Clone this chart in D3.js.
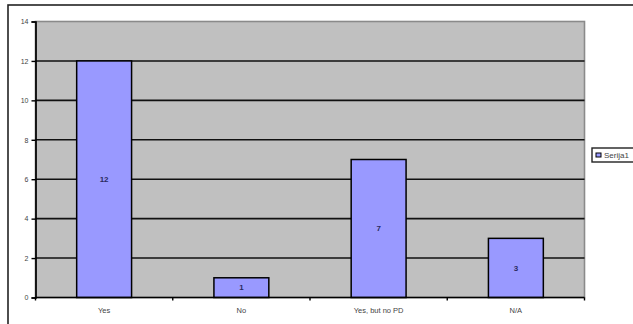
<!DOCTYPE html>
<html>
<head>
<meta charset="utf-8">
<script src="https://cdn.jsdelivr.net/npm/d3@7"></script>
<style>
  html, body { margin: 0; padding: 0; background: #fff; }
  svg { display: block; font-family: "Liberation Sans", Arial, sans-serif; }
</style>
</head>
<body>
<svg id="chart" width="633" height="324"></svg>
<script>
// Answers and their counts
const categories = ["Yes", "No", "Yes, but no PD", "N/A"];
const counts = [12, 1, 7, 3];
const yTicks = [0, 2, 4, 6, 8, 10, 12, 14];
const seriesName = "Serija1";

const svg = d3.select("#chart");
const plot = { left: 35.5, top: 21.5, right: 584.5, bottom: 297.5 };

// Outer chart frame (extends past the visible page on the right and bottom)
svg.append("rect")
  .attr("x", 8).attr("y", 5)
  .attr("width", 700).attr("height", 400)
  .attr("fill", "#fff")
  .attr("stroke", "#222").attr("stroke-width", 1.6);

const x = d3.scaleBand()
  .domain(categories)
  .range([plot.left, plot.right])
  .paddingInner(0.6).paddingOuter(0.3);

const y = d3.scaleLinear()
  .domain([0, 14])
  .range([plot.bottom, plot.top]);

// Plot area background
svg.append("rect")
  .attr("x", plot.left).attr("y", plot.top)
  .attr("width", plot.right - plot.left)
  .attr("height", plot.bottom - plot.top)
  .attr("fill", "#c0c0c0")
  .attr("stroke", "#8a8a8a").attr("stroke-width", 1.6);

// Horizontal gridlines
svg.append("g")
  .selectAll("line")
  .data(yTicks.filter(d => d > 0 && d < 14))
  .join("line")
  .attr("x1", plot.left).attr("x2", plot.right)
  .attr("y1", d => y(d)).attr("y2", d => y(d))
  .attr("stroke", "#111").attr("stroke-width", 1.6);

// Bars
svg.append("g")
  .selectAll("rect")
  .data(categories)
  .join("rect")
  .attr("x", d => x(d))
  .attr("y", (d, i) => y(counts[i]))
  .attr("width", x.bandwidth())
  .attr("height", (d, i) => y(0) - y(counts[i]))
  .attr("fill", "#9999ff")
  .attr("stroke", "#000").attr("stroke-width", 1.5);

// Value labels centred in each bar
svg.append("g")
  .selectAll("text")
  .data(categories)
  .join("text")
  .attr("x", d => x(d) + x.bandwidth() / 2)
  .attr("y", (d, i) => (y(counts[i]) + y(0)) / 2)
  .attr("dy", "0.35em")
  .attr("text-anchor", "middle")
  .attr("font-size", 8)
  .attr("font-weight", "bold")
  .attr("fill", "#2a2a60")
  .text((d, i) => counts[i]);

// Y axis
const yAxis = svg.append("g")
  .attr("transform", `translate(${plot.left},0)`)
  .call(d3.axisLeft(y).tickValues(yTicks).tickSize(4).tickPadding(3));
yAxis.select(".domain").attr("stroke", "#000").attr("stroke-width", 1.7);
yAxis.selectAll(".tick line").attr("stroke", "#000").attr("stroke-width", 1.4);
yAxis.selectAll("text").attr("font-size", 7).attr("fill", "#444")
  .attr("font-family", "'Liberation Sans', Arial, sans-serif");

// X axis baseline with tick marks at the category boundaries
const xAxisG = svg.append("g");
xAxisG.append("line")
  .attr("x1", plot.left).attr("x2", plot.right)
  .attr("y1", plot.bottom).attr("y2", plot.bottom)
  .attr("stroke", "#000").attr("stroke-width", 1.7);
const step = (plot.right - plot.left) / categories.length;
xAxisG.selectAll("line.tick")
  .data(d3.range(categories.length + 1))
  .join("line")
  .attr("class", "tick")
  .attr("x1", i => plot.left + i * step).attr("x2", i => plot.left + i * step)
  .attr("y1", plot.bottom).attr("y2", plot.bottom + 3)
  .attr("stroke", "#000").attr("stroke-width", 1.4);
xAxisG.selectAll("text")
  .data(categories)
  .join("text")
  .attr("x", d => x(d) + x.bandwidth() / 2)
  .attr("y", plot.bottom + 15)
  .attr("text-anchor", "middle")
  .attr("font-size", 7.5)
  .attr("fill", "#444")
  .text(d => d);

// Legend
const legend = svg.append("g").attr("transform", "translate(592,148)");
legend.append("rect")
  .attr("width", 60).attr("height", 14)
  .attr("fill", "#fff")
  .attr("stroke", "#222").attr("stroke-width", 1.4);
legend.append("rect")
  .attr("x", 4).attr("y", 5).attr("width", 5).attr("height", 4)
  .attr("fill", "#9999ff")
  .attr("stroke", "#000").attr("stroke-width", 1);
legend.append("text")
  .attr("x", 12).attr("y", 7).attr("dy", "0.35em")
  .attr("font-size", 8)
  .attr("fill", "#444")
  .text(seriesName);
</script>
</body>
</html>
